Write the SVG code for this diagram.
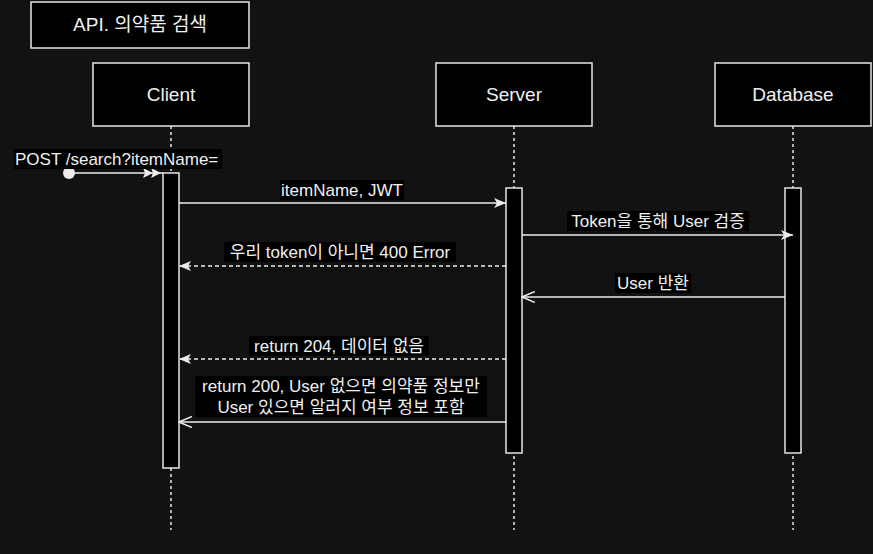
<svg xmlns="http://www.w3.org/2000/svg" width="873" height="554" viewBox="0 0 873 554">
<defs>
<style>
.box{fill:#000;stroke:#e6e6e6;stroke-width:1.5}
.t{font-family:"Liberation Sans","Noto Sans CJK KR",sans-serif;font-size:17px;fill:#f0f0f0}
.big{font-size:19px}
.c{text-anchor:middle;dominant-baseline:central}
.life{stroke:#e6e6e6;stroke-width:1.5;stroke-dasharray:3 3;fill:none}
.msg{stroke:#ececec;stroke-width:1.5;fill:none}
.dash{stroke-dasharray:4 3}
.lbg{fill:#000}
</style>
<marker id="fill" viewBox="0 0 12 10" refX="12" refY="5" markerWidth="12" markerHeight="10" markerUnits="userSpaceOnUse" orient="auto">
<path d="M0,0 L12,5 L0,10 L3,5 Z" fill="#ececec"/>
</marker>
<marker id="open" viewBox="0 0 14 12" refX="13" refY="6" markerWidth="14" markerHeight="12" markerUnits="userSpaceOnUse" orient="auto">
<path d="M0,0.5 L13,6 L0,11.5" fill="none" stroke="#ececec" stroke-width="1.5"/>
</marker>
<marker id="dbl" viewBox="0 0 20 10" refX="20" refY="5" markerWidth="20" markerHeight="10" markerUnits="userSpaceOnUse" orient="auto">
<path d="M0,0 L10,5 L0,10 L2,5 Z M8,0 L18,5 L8,10 L10,5 Z" fill="#ececec"/>
</marker>
</defs>
<rect width="873" height="554" fill="#121212"/>

<g id="title">
<rect class="box" x="31" y="2" width="218" height="46"/>
<text class="t big c" x="140" y="24">API. 의약품 검색</text>
</g>

<g id="lifelines">
<line class="life" x1="171" y1="126" x2="171" y2="530"/>
<line class="life" x1="514" y1="126" x2="514" y2="530"/>
<line class="life" x1="793" y1="126" x2="793" y2="530"/>
</g>

<g id="client">
<rect class="box" x="93" y="63" width="156" height="63"/>
<text class="t big c" x="171" y="94">Client</text>
<rect class="box" x="163" y="173" width="16" height="295"/>
</g>
<g id="server">
<rect class="box" x="436" y="63" width="156" height="63"/>
<text class="t big c" x="514" y="94">Server</text>
<rect class="box" x="506" y="188" width="16" height="265"/>
</g>
<g id="database">
<rect class="box" x="715" y="63" width="156" height="63"/>
<text class="t big c" x="793" y="94">Database</text>
<rect class="box" x="785" y="188" width="16" height="265"/>
</g>

<g id="connectors">
<circle cx="69" cy="173" r="6" fill="#ececec"/>
<line class="msg" x1="69" y1="173" x2="163" y2="173" marker-end="url(#dbl)"/>
<rect class="lbg" x="14" y="149" width="208" height="20"/>
<text class="t" x="15" y="165">POST /search?itemName=</text>

<line class="msg" x1="179" y1="203" x2="506" y2="203" marker-end="url(#fill)"/>
<rect class="lbg" x="280" y="180" width="124" height="20"/>
<text class="t c" x="342" y="190">itemName, JWT</text>

<line class="msg" x1="522" y1="235" x2="793" y2="235" marker-end="url(#fill)"/>
<rect class="lbg" x="567" y="211" width="182" height="20"/>
<text class="t c" x="658" y="221">Token을 통해 User 검증</text>

<line class="msg dash" x1="506" y1="266" x2="179" y2="266" marker-end="url(#fill)"/>
<rect class="lbg" x="224" y="242" width="232" height="20"/>
<text class="t c" x="340" y="252">우리 token이 아니면 400 Error</text>

<line class="msg" x1="785" y1="297" x2="522" y2="297" marker-end="url(#open)"/>
<rect class="lbg" x="615" y="273" width="76" height="20"/>
<text class="t c" x="653" y="283">User 반환</text>

<line class="msg dash" x1="506" y1="359" x2="179" y2="359" marker-end="url(#fill)"/>
<rect class="lbg" x="249" y="336" width="180" height="20"/>
<text class="t c" x="339" y="346">return 204, 데이터 없음</text>

<line class="msg" x1="506" y1="422" x2="179" y2="422" marker-end="url(#open)"/>
<rect class="lbg" x="195" y="376" width="292" height="41"/>
<text class="t c" x="341" y="386">return 200, User 없으면 의약품 정보만</text>
<text class="t c" x="341" y="407">User 있으면 알러지 여부 정보 포함</text>
</g>
</svg>
